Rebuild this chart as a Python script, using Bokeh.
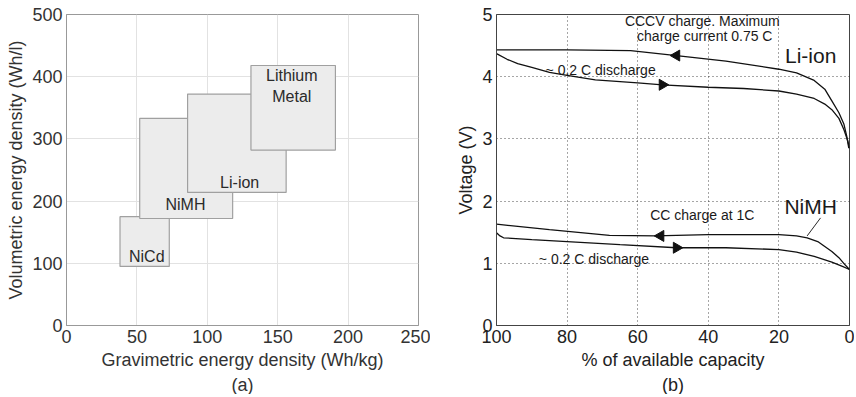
import numpy as np
from bokeh.plotting import figure
from bokeh.layouts import row
from bokeh.models import Range1d, Title, FixedTicker
from bokeh.core.properties import value
from bokeh.embed import file_html
from bokeh.resources import INLINE

FONT = "Liberation Sans"

# ---------------- Panel (a) data ----------------
chem_names = ["NiCd", "NiMH", "Li-ion", "Lithium Metal"]
grav_min = [38, 52, 86, 131]
grav_max = [73, 118, 156, 191]
vol_min = [95, 172, 214, 282]
vol_max = [175, 333, 372, 418]
label_text = ["NiCd", "NiMH", "Li-ion", "Lithium", "Metal"]
label_x = [57, 84.5, 123, 160, 160]
label_y = [111, 195, 230, 402, 368]
a_xticks = [0, 50, 100, 150, 200, 250]
a_yticks = [0, 100, 200, 300, 400, 500]

# ---------------- Panel (b) data ----------------
liion_chg_x = [100, 80, 62, 49, 35, 20, 15, 10, 7, 5, 3, 1.6, 0.8, 0.2]
liion_chg_v = [4.43, 4.43, 4.42, 4.34, 4.25, 4.12, 4.06, 3.94, 3.80, 3.61, 3.42, 3.24, 3.05, 2.85]
liion_dis_x = [100, 97, 94, 90, 85, 80, 72, 60, 53, 40, 30, 20, 15, 10, 7, 5, 3, 1.6, 0.5, 0]
liion_dis_v = [4.37, 4.28, 4.21, 4.15, 4.07, 4.02, 3.95, 3.90, 3.87, 3.83, 3.81, 3.77, 3.72, 3.65, 3.56, 3.47, 3.33, 3.15, 2.97, 2.85]
nimh_chg_x = [100, 85, 68, 55, 40, 20, 15, 12, 9, 7, 5, 3, 1.5, 0]
nimh_chg_v = [1.63, 1.54, 1.45, 1.44, 1.46, 1.46, 1.44, 1.41, 1.35, 1.27, 1.19, 1.09, 0.99, 0.90]
nimh_dis_x = [100, 99, 98, 90, 80, 65, 49, 35, 20, 15, 10, 5, 2, 0]
nimh_dis_v = [1.49, 1.44, 1.41, 1.38, 1.35, 1.30, 1.25, 1.25, 1.22, 1.18, 1.11, 1.02, 0.95, 0.90]

arrow_x = [49, 53, 53.5, 49]
arrow_v = [4.34, 3.87, 1.44, 1.25]
arrow_angle = [np.pi / 2, -np.pi / 2, np.pi / 2, -np.pi / 2]

small_text = ["CCCV charge. Maximum", "charge current 0.75 C", "~ 0.2 C discharge",
              "CC charge at 1C", "~ 0.2 C discharge"]
small_x = [41.7, 41, 70.5, 41.7, 72.4]
small_v = [4.89, 4.65, 4.1, 1.77, 1.07]
big_text = ["Li-ion", "NiMH"]
big_x = [11, 11]
big_v = [4.34, 1.92]
leader_x = [8.2, 12]
leader_v = [1.73, 1.44]
b_xticks = [100, 80, 60, 40, 20, 0]
b_yticks = [0, 1, 2, 3, 4, 5]

TICK_SIZE = "18px"
LABEL_SIZE = "18px"


def style_axes(p, color, line_color):
    for ax in (p.xaxis, p.yaxis):
        ax.major_label_text_font = FONT
        ax.major_label_text_font_size = TICK_SIZE
        ax.major_label_text_color = color
        ax.axis_label_text_font = FONT
        ax.axis_label_text_font_size = LABEL_SIZE
        ax.axis_label_text_font_style = "normal"
        ax.axis_label_text_color = color
        ax.major_tick_out = 0
        ax.major_tick_in = 0
        ax.minor_tick_out = 0
        ax.minor_tick_in = 0
        ax.axis_line_color = line_color
        ax.major_label_standoff = 4
    p.xaxis.axis_label_standoff = 4
    p.yaxis.axis_label_standoff = 3


# ---------------- Panel (a) ----------------
pa = figure(width=430, height=394, output_backend="svg", toolbar_location=None,
            x_range=Range1d(0, 250), y_range=Range1d(0, 500),
            min_border_left=66, min_border_right=12, min_border_top=14, min_border_bottom=69)
pa.quad(left=grav_min, right=grav_max, bottom=vol_min, top=vol_max,
        fill_color="#ececec", line_color="#a0a0a0", line_width=1.2)
pa.text(x=label_x, y=label_y, text=label_text, text_align="center", text_baseline="middle",
        text_font=value(FONT), text_font_size="16px", text_color="#2a2a2a")
pa.xaxis.ticker = FixedTicker(ticks=a_xticks)
pa.yaxis.ticker = FixedTicker(ticks=a_yticks)
pa.xaxis.axis_label = "Gravimetric energy density (Wh/kg)"
pa.yaxis.axis_label = "Volumetric energy density (Wh/l)"
style_axes(pa, "#333333", "#999999")
pa.grid.grid_line_color = "#e2e2e2"
pa.outline_line_color = "#999999"
pa.add_layout(Title(text="(a)", align="center", text_font=FONT, text_font_size="18px",
                    text_font_style="normal", text_color="#333333", standoff=0), "below")

# ---------------- Panel (b) ----------------
pb = figure(width=424, height=394, output_backend="svg", toolbar_location=None,
            x_range=Range1d(100, 0), y_range=Range1d(0, 5),
            min_border_left=66, min_border_right=5, min_border_top=14, min_border_bottom=69)
for xs, vs in ((liion_chg_x, liion_chg_v), (liion_dis_x, liion_dis_v),
               (nimh_chg_x, nimh_chg_v), (nimh_dis_x, nimh_dis_v)):
    pb.line(xs, vs, line_color="#111111", line_width=1.3)
pb.line(leader_x, leader_v, line_color="#111111", line_width=0.9)
pb.scatter(x=arrow_x, y=arrow_v, marker="triangle", angle=arrow_angle, size=11,
           fill_color="#111111", line_color="#111111")
pb.text(x=small_x, y=small_v, text=small_text, text_align="center", text_baseline="middle",
        text_font=value(FONT), text_font_size="14px", text_color="#1a1a1a")
pb.text(x=big_x, y=big_v, text=big_text, text_align="center", text_baseline="middle",
        text_font=value(FONT), text_font_size="21px", text_color="#1a1a1a")
pb.xaxis.ticker = FixedTicker(ticks=b_xticks)
pb.yaxis.ticker = FixedTicker(ticks=b_yticks)
pb.xaxis.axis_label = "% of available capacity"
pb.yaxis.axis_label = "Voltage (V)"
style_axes(pb, "#222222", "#444444")
pb.grid.grid_line_color = "#222222"
pb.grid.grid_line_dash = "1 3"
pb.grid.grid_line_alpha = 0.8
pb.outline_line_color = "#444444"
pb.add_layout(Title(text="(b)", align="center", text_font=FONT, text_font_size="18px",
                    text_font_style="normal", text_color="#222222", standoff=0), "below")

layout = row(pa, pb)
open("out.html", "w").write(file_html(layout, INLINE))
